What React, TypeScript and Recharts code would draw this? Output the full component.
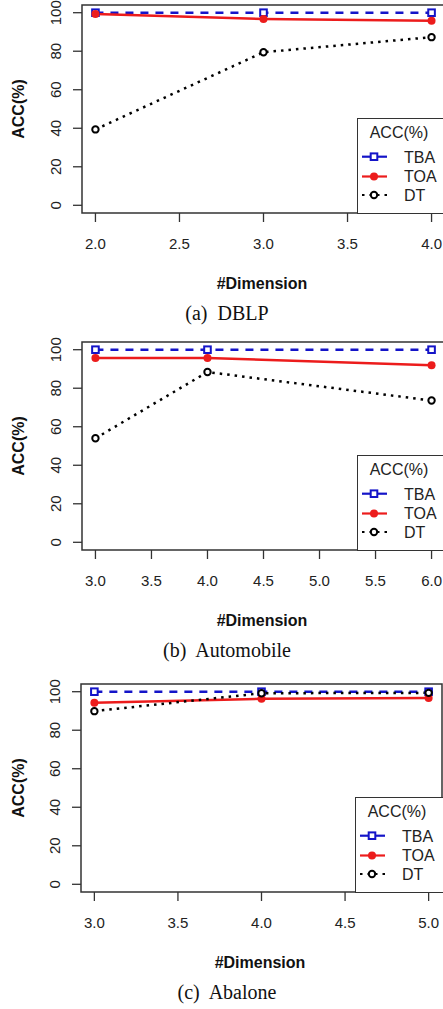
import React from "react";
import {
  LineChart,
  Line,
  XAxis,
  YAxis,
  ReferenceArea,
  Legend,
} from "recharts";

// (a) DBLP
const dblpDims = [2, 3, 4];
const dblpTBA = [100, 100, 100];
const dblpTOA = [99.3, 96.7, 95.8];
const dblpDT = [39.4, 79.5, 87.3];
const dblpTicks = [2, 2.5, 3, 3.5, 4];

// (b) Automobile
const autoDims = [3, 4, 6];
const autoTBA = [100, 100, 100];
const autoTOA = [95.7, 95.7, 91.9];
const autoDT = [54.0, 88.4, 73.6];
const autoTicks = [3, 3.5, 4, 4.5, 5, 5.5, 6];

// (c) Abalone
const abaloneDims = [3, 4, 5];
const abaloneTBA = [100, 100, 100];
const abaloneTOA = [94.3, 96.3, 96.7];
const abaloneDT = [89.9, 99.2, 99.4];
const abaloneTicks = [3, 3.5, 4, 4.5, 5];

const yTicks = [0, 20, 40, 60, 80, 100];
const seriesNames = ["TBA", "TOA", "DT"];

const BLUE = "#1414c8";
const RED = "#ec1c1c";
const BLACK = "#000";
const AXIS = "#333";
const FONT = "'Liberation Sans', Arial, sans-serif";

const panels = [
  { caption: "(a)\u00a0 DBLP", top: 0, left: 82, right: -2, dims: dblpDims, tba: dblpTBA, toa: dblpTOA, dt: dblpDT, ticks: dblpTicks, legendLeft: 357 },
  { caption: "(b)\u00a0 Automobile", top: 337, left: 82, right: -2, dims: autoDims, tba: autoTBA, toa: autoTOA, dt: autoDT, ticks: autoTicks, legendLeft: 357 },
  { caption: "(c)\u00a0 Abalone", top: 679, left: 81, right: 1, dims: abaloneDims, tba: abaloneTBA, toa: abaloneTOA, dt: abaloneDT, ticks: abaloneTicks, legendLeft: 355 },
];

const W = 443;
const H = 300;
const TOP = 5;
const XH = 87;

const SquareDot = (p: any) => {
  if (p.cx == null || p.cy == null) return null;
  return (
    <rect key={`sq-${p.index}`} x={p.cx - 3.3} y={p.cy - 3.3} width={6.6} height={6.6}
      fill="#fff" stroke={BLUE} strokeWidth={2} />
  );
};
const FilledDot = (p: any) => {
  if (p.cx == null || p.cy == null) return null;
  return <circle key={`fc-${p.index}`} cx={p.cx} cy={p.cy} r={4} fill={RED} stroke="none" />;
};
const OpenDot = (p: any) => {
  if (p.cx == null || p.cy == null) return null;
  return <circle key={`oc-${p.index}`} cx={p.cx} cy={p.cy} r={3.2} fill="#fff" stroke={BLACK} strokeWidth={2} />;
};

const XTick = (p: any) => (
  <text x={p.x} y={p.y + 27} textAnchor="middle" fontSize={15} fontFamily={FONT} fill="#222">
    {p.payload.value.toFixed(1)}
  </text>
);

const YTick = (p: any) => (
  <text x={p.x - 12} y={p.y} textAnchor="middle" fontSize={15} fontFamily={FONT} fill="#222"
    transform={`rotate(-90, ${p.x - 12}, ${p.y})`}>
    {p.payload.value}
  </text>
);

const LegendBox = () => {
  const rows = [
    { name: seriesNames[0], color: BLUE, dash: "none", y: 38.7 },
    { name: seriesNames[1], color: RED, dash: "none", y: 58.5 },
    { name: seriesNames[2], color: BLACK, dash: "2.5 5", y: 77 },
  ];
  return (
    <div style={{ width: 100, height: 96, boxSizing: "border-box", border: `1.5px solid ${AXIS}`, background: "#fff" }}>
      <svg width={100} height={96} style={{ position: "absolute", left: 0, top: 0 }}>
        <text x={42} y={19.5} textAnchor="middle" fontSize={16} fontFamily={FONT} fill="#222">ACC(%)</text>
        {rows.map((r, i) => (
          <g key={r.name}>
            <line x1={5} x2={30} y1={r.y} y2={r.y} stroke={r.color} strokeWidth={2.2} strokeDasharray={r.dash} />
            {i === 0 && <rect x={13.7} y={r.y - 3.3} width={6.6} height={6.6} fill="#fff" stroke={BLUE} strokeWidth={2} />}
            {i === 1 && <circle cx={17} cy={r.y} r={4} fill={RED} />}
            {i === 2 && <circle cx={17} cy={r.y} r={3.2} fill="#fff" stroke={BLACK} strokeWidth={2} />}
            <text x={47} y={r.y + 5.8} fontSize={16} fontFamily={FONT} fill="#222">{r.name}</text>
          </g>
        ))}
      </svg>
    </div>
  );
};

function Panel({ cfg }: { cfg: (typeof panels)[number] }) {
  const data = cfg.dims.map((d, i) => ({ dim: d, TBA: cfg.tba[i], TOA: cfg.toa[i], DT: cfg.dt[i] }));
  const lo = cfg.dims[0];
  const hi = cfg.dims[cfg.dims.length - 1];
  const ext = (hi - lo) * 0.04;
  const xMin = lo - ext;
  const xMax = hi + ext;
  return (
    <div style={{ position: "absolute", left: 0, top: cfg.top, width: W, height: H }}>
      <LineChart width={W} height={H} data={data}
        margin={{ top: TOP, right: cfg.right, bottom: 0, left: 0 }}>
        <XAxis dataKey="dim" type="number" domain={[xMin, xMax]} ticks={cfg.ticks} interval={0}
          allowDataOverflow axisLine={false} tickSize={9} tickMargin={0} height={XH}
          tickLine={{ stroke: AXIS, strokeWidth: 1.3 }} tick={<XTick />}
          label={(p: any) => {
            const vb = p.viewBox || {};
            return (
              <text x={vb.x + vb.width / 2 - 1.5} y={vb.y + 75.5} textAnchor="middle" fontSize={16}
                fontWeight="bold" fontFamily={FONT} fill="#111">#Dimension</text>
            );
          }} />
        <YAxis type="number" domain={[-4, 104]} ticks={yTicks} interval={0} allowDataOverflow
          axisLine={false} tickSize={9} tickMargin={0} width={cfg.left}
          tickLine={{ stroke: AXIS, strokeWidth: 1.3 }} tick={<YTick />}
          label={(p: any) => {
            const vb = p.viewBox || {};
            const cx = vb.x + 23.5;
            const cy = vb.y + vb.height / 2;
            return (
              <text x={cx} y={cy} textAnchor="middle" fontSize={16} fontWeight="bold" fontFamily={FONT}
                fill="#111" transform={`rotate(-90, ${cx}, ${cy})`}>ACC(%)</text>
            );
          }} />
        <ReferenceArea x1={xMin} x2={xMax} y1={-4} y2={104} fill="none" stroke={AXIS} strokeWidth={1.5} />
        <Line dataKey="TBA" stroke={BLUE} strokeWidth={2.5} strokeDasharray="8 7" dot={SquareDot}
          activeDot={false} isAnimationActive={false} />
        <Line dataKey="TOA" stroke={RED} strokeWidth={2.5} dot={FilledDot}
          activeDot={false} isAnimationActive={false} />
        <Line dataKey="DT" stroke={BLACK} strokeWidth={2.5} strokeDasharray="2.5 5" dot={OpenDot}
          activeDot={false} isAnimationActive={false} />
        <Legend layout="vertical" align="center" verticalAlign="middle" content={<LegendBox />}
          wrapperStyle={{ position: "absolute", left: cfg.legendLeft, top: TOP + (H - TOP - XH) - 96 + 0.5, width: 100, height: 96, margin: 0 }} />
      </LineChart>
      <div style={{ position: "absolute", left: 0, width: 454, top: 300, textAlign: "center", fontFamily: "'Liberation Serif', 'Times New Roman', serif", fontSize: 20, whiteSpace: "pre", color: "#111", lineHeight: "26px" }}>
        {cfg.caption}
      </div>
    </div>
  );
}

export default function App() {
  return (
    <div style={{ position: "absolute", left: 0, top: 0, width: 443, height: 1009, overflow: "hidden", background: "#fff" }}>
      {panels.map((cfg) => (
        <Panel key={cfg.caption} cfg={cfg} />
      ))}
    </div>
  );
}
